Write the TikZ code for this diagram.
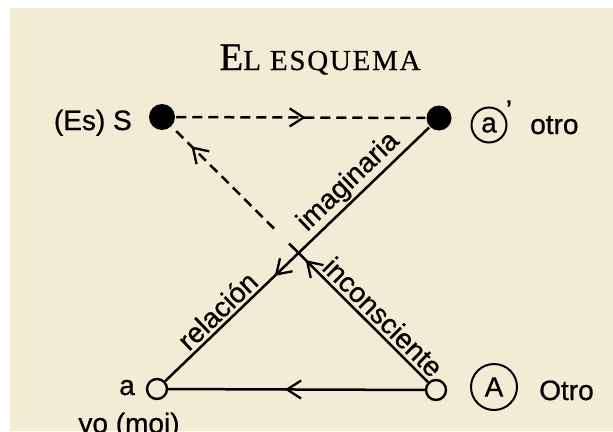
\documentclass[tikz,border=0pt]{standalone}
\usepackage{fontspec}
\setmainfont{Liberation Sans}[FakeBold=0.7]
\newfontfamily\titlefont{Liberation Serif}[FakeBold=0.6]
\usetikzlibrary{arrows.meta,decorations.markings}
\definecolor{paper}{RGB}{243,236,213}
\begin{document}
\begin{tikzpicture}[x=1pt,y=-1pt,
  line width=2.5pt,
  lbl/.style={font=\fontsize{28}{28}\selectfont, inner sep=0pt},
  solidpt/.style={circle, fill=black, draw=none, minimum size=26pt, inner sep=0pt},
  openpt/.style={circle, draw=black, fill=paper, minimum size=20pt, inner sep=0pt, line width=2.4pt},
  ring/.style={circle, draw=black, line width=2pt, inner sep=0pt},
  dashline/.style={dash pattern=on 10pt off 6pt},
  midarrow/.style={postaction={decorate}, decoration={markings, mark=at position #1 with {\arrow{Straight Barb[length=14pt,width=18pt,line width=2.3pt]}}}}
]
\useasboundingbox (0,0) rectangle (613,431);
\fill[white] (0,0) rectangle (613,431);
\fill[paper] (10,8) rectangle (613,431);

% title
\node[anchor=base, inner sep=0pt] (title) at (320,70) {\titlefont{\fontsize{39}{39}\selectfont E}{\fontsize{29}{29}\selectfont\addfontfeature{LetterSpace=6}L ESQUEMA}};

% points
\node[solidpt] (S) at (162,117) {};
\node[solidpt, minimum size=25pt] (ap) at (439,118) {};
\node[openpt] (a) at (157,389) {};
\node[openpt] (A) at (436,390) {};
\coordinate (c1) at (289,243.5);
\coordinate (c2) at (274,228.5);

% connectors
\draw[dashline, midarrow=0.52] (S) -- (ap);
\draw[midarrow=0.585] (ap) -- (a);
\draw[midarrow=0.545] (A) -- (a);
\draw[midarrow=0.88] (A) -- (c1);
\draw[dashline, midarrow=0.81] (c2) -- (S);

% sloped labels
\path (a.center) -- (ap.center)
  node[pos=0.72, sloped, above=2pt, lbl] (limag) {imaginaria}
  node[pos=0.25, sloped, above=3pt, lbl] (lrel) {relación};
\path (S.center) -- (A.center)
  node[pos=0.77, sloped, above=3pt, lbl] (linc) {inconsciente};

% outer labels
\node[lbl, anchor=base east] (lS) at (133,130) {(Es) S};
\node[ring, minimum size=35pt, lbl] (ca) at (489,125) {a};
\node[lbl] (prime) at (509,110) {’};
\node[lbl, anchor=base west] (lotro) at (529,134) {otro};
\node[ring, minimum size=46pt, lbl] (cA) at (494,387) {A};
\node[lbl, anchor=base west] (lOtro) at (538,400) {Otro};
\node[lbl, anchor=base east] (la) at (136,395) {a};
\node[lbl, anchor=base] (lyo) at (129,433) {yo (moi)};
\end{tikzpicture}
\end{document}
